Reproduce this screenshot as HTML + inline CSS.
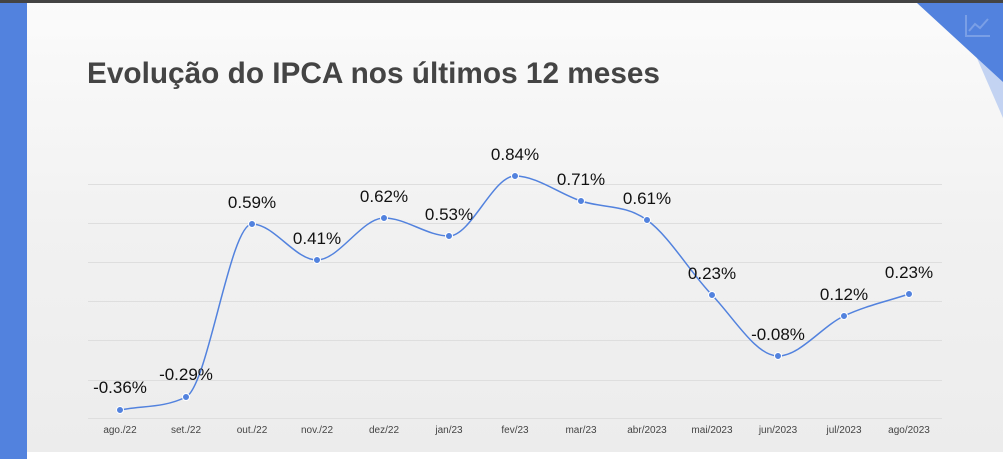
<!DOCTYPE html>
<html><head><meta charset="utf-8"><style>
html,body{margin:0;padding:0;width:1003px;height:459px;overflow:hidden;background:#fff;}
svg{display:block}
</style></head><body>
<svg width="1003" height="459" xmlns="http://www.w3.org/2000/svg" font-family="Liberation Sans, sans-serif">
<defs>
<linearGradient id="bg" x1="0" y1="0" x2="0" y2="1">
<stop offset="0" stop-color="#fbfbfb"/><stop offset="0.5" stop-color="#f1f1f1"/><stop offset="1" stop-color="#ececec"/>
</linearGradient>
</defs>
<rect x="0" y="0" width="1003" height="459" fill="url(#bg)"/>
<rect x="0" y="452" width="1003" height="7" fill="#fff"/>
<rect x="0" y="0" width="1003" height="3" fill="#444"/>
<rect x="0" y="3" width="27" height="456" fill="#5282de"/>
<polygon points="953,3 1003,3 1003,118" fill="#c3d3f2"/>
<polygon points="917,3 1003,3 1003,82" fill="#5282de"/>
<g stroke="#7a9fe6" stroke-width="2" fill="none"><polyline points="966,15 966,36 990,36"/><polyline points="969,31 975,24 980,28 988,19"/></g>
<text x="87" y="83" font-size="30" font-weight="bold" fill="#444" textLength="573" lengthAdjust="spacingAndGlyphs">Evolução do IPCA nos últimos 12 meses</text>
<g stroke="#dedede" stroke-width="1">
<line x1="88" y1="184.5" x2="942" y2="184.5"/><line x1="88" y1="223.5" x2="942" y2="223.5"/>
<line x1="88" y1="262.5" x2="942" y2="262.5"/><line x1="88" y1="301.5" x2="942" y2="301.5"/>
<line x1="88" y1="340.5" x2="942" y2="340.5"/><line x1="88" y1="380.5" x2="942" y2="380.5"/>
<line x1="88" y1="418.5" x2="942" y2="418.5"/>
</g>
<path fill="none" stroke="#5282de" stroke-width="1.5" d="M120,410 C142,405.7 164,408 186,397 C208,386 230,224 252,224 C274,224 295,260 317,260 C339,260 362,218 384,218 C406,218 427,236 449,236 C471,236 493,176 515,176 C537,176 559,193.7 581,201 C603,208.3 625,204.2 647,220 C669,235.8 690,272.1 712,295 C734,317.9 756,356 778,356 C800,356 822,326.3 844,316 C866,305.7 887,301.4 909,294"/>
<g fill="#5282de" stroke="#fff" stroke-width="1">
<circle cx="120" cy="410" r="3.5"/><circle cx="186" cy="397" r="3.5"/><circle cx="252" cy="224" r="3.5"/>
<circle cx="317" cy="260" r="3.5"/><circle cx="384" cy="218" r="3.5"/><circle cx="449" cy="236" r="3.5"/>
<circle cx="515" cy="176" r="3.5"/><circle cx="581" cy="201" r="3.5"/><circle cx="647" cy="220" r="3.5"/>
<circle cx="712" cy="295" r="3.5"/><circle cx="778" cy="356" r="3.5"/><circle cx="844" cy="316" r="3.5"/>
<circle cx="909" cy="294" r="3.5"/>
</g>
<g font-size="17" fill="#111" text-anchor="middle">
<text x="120" y="393">-0.36%</text><text x="186" y="380">-0.29%</text><text x="252" y="208">0.59%</text>
<text x="317" y="244">0.41%</text><text x="384" y="202">0.62%</text><text x="449" y="220">0.53%</text>
<text x="515" y="160">0.84%</text><text x="581" y="185">0.71%</text><text x="647" y="204">0.61%</text>
<text x="712" y="279">0.23%</text><text x="778" y="340">-0.08%</text><text x="844" y="300">0.12%</text>
<text x="909" y="278">0.23%</text>
</g>
<g font-size="10" fill="#444" text-anchor="middle">
<text x="120" y="433">ago./22</text><text x="186" y="433">set./22</text><text x="252" y="433">out./22</text>
<text x="317" y="433">nov./22</text><text x="384" y="433">dez/22</text><text x="449" y="433">jan/23</text>
<text x="515" y="433">fev/23</text><text x="581" y="433">mar/23</text><text x="647" y="433">abr/2023</text>
<text x="712" y="433">mai/2023</text><text x="778" y="433">jun/2023</text><text x="844" y="433">jul/2023</text>
<text x="909" y="433">ago/2023</text>
</g>
</svg>
</body></html>
